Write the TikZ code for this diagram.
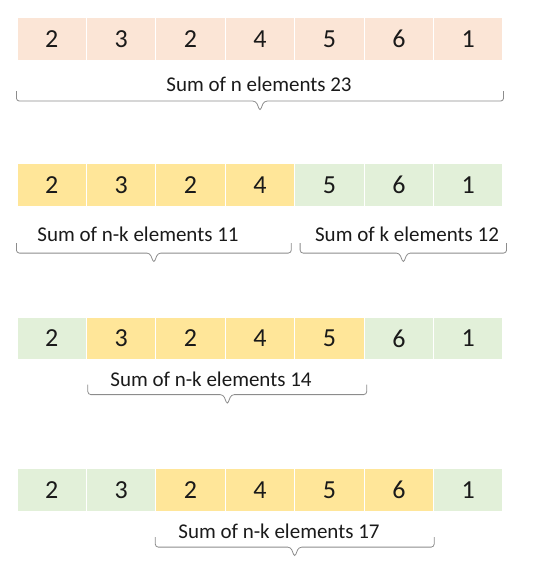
\documentclass[tikz,border=0pt]{standalone}
\usepackage{fontspec}
\setmainfont{Carlito}
\usetikzlibrary{calc,positioning}
\definecolor{peach}{HTML}{FBE5D6}
\definecolor{sunny}{HTML}{FFE699}
\definecolor{mint}{HTML}{E2F0D9}
\definecolor{bracegray}{HTML}{8C8C8C}
\definecolor{ink}{HTML}{1A1A1A}
% flat brace between two named points, tip pointing down
\newcommand{\sumbr}[2]{%
  \draw[sumbrace] (#1) |- ($(#1)!.5!(#2)+(-4,10)$) -- ($(#1)!.5!(#2)+(0,20)$)
    -- ($(#1)!.5!(#2)+(4,10)$) -| (#2);}

\begin{document}
\begin{tikzpicture}[
  x=1pt,y=-1pt,
  cell/.style={draw=white,line width=1.2pt,minimum width=69.4pt,minimum height=43pt,inner sep=0pt,text=ink,font=\fontsize{26}{28}\selectfont},
  sumlabel/.style={font=\fontsize{21}{24}\selectfont,text=ink,inner sep=0pt},
  sumbrace/.style={draw=bracegray,line width=0.8pt,rounded corners=3pt}
]
\useasboundingbox (0,0) rectangle (538,564);

\foreach \v [count=\i] in {2,3,2,4,5,6,1}
  \node[cell,fill=peach] (a\i) at ({51.7+69.43*(\i-1)},39) {\v};
\node[sumlabel] (asum) at (259,84) {Sum of n elements 23};
\coordinate (al) at ([yshift=-30pt]a1.south west);
\coordinate (ar) at ([yshift=-30pt]a7.south east);
\sumbr{al}{ar}

\foreach \v/\c [count=\i] in {2/sunny,3/sunny,2/sunny,4/sunny,5/mint,6/mint,1/mint}
  \node[cell,fill=\c] (b\i) at ({51.7+69.43*(\i-1)},185) {\v};
\node[sumlabel] (bsum) at (138,234) {Sum of n-k elements 11};
\node[sumlabel] (ksum) at (407,234) {Sum of k elements 12};
\coordinate (bl) at ([yshift=-36pt]b1.south west);
\coordinate (bm) at ([yshift=-36pt,xshift=-4pt]b4.south east);
\coordinate (kl) at ([yshift=-36pt,xshift=6pt]b5.south west);
\coordinate (kr) at ([yshift=-36pt,xshift=3pt]b7.south east);
\sumbr{bl}{bm}
\sumbr{kl}{kr}

\foreach \v/\c [count=\i] in {2/mint,3/sunny,2/sunny,4/sunny,5/sunny,6/mint,1/mint}
  \node[cell,fill=\c] (c\i) at ({51.7+69.43*(\i-1)},338.5) {\v};
\node[sumlabel] (csum) at (211,379) {Sum of n-k elements 14};
\coordinate (cl) at ([yshift=-24pt,xshift=2pt]c2.south west);
\coordinate (cr) at ([yshift=-24pt,xshift=2pt]c5.south east);
\sumbr{cl}{cr}

\foreach \v/\c [count=\i] in {2/mint,3/mint,2/sunny,4/sunny,5/sunny,6/sunny,1/mint}
  \node[cell,fill=\c] (d\i) at ({51.7+69.43*(\i-1)},490) {\v};
\node[sumlabel] (dsum) at (279,531) {Sum of n-k elements 17};
\coordinate (dl) at ([yshift=-25pt]d3.south west);
\coordinate (dr) at ([yshift=-25pt]d6.south east);
\sumbr{dl}{dr}
\end{tikzpicture}
\end{document}
